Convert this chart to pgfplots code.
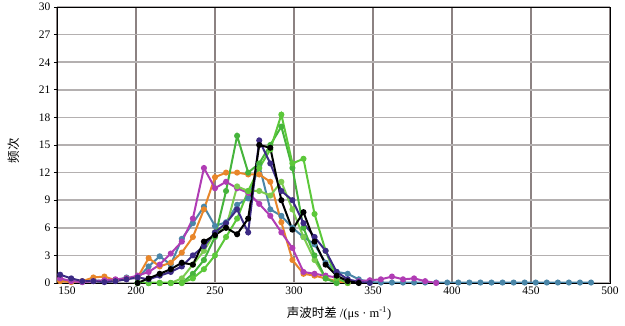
\documentclass[border=0pt]{standalone}
\usepackage{pgfplots}
\pgfplotsset{compat=1.18}
\usepackage{fontspec}
\setmainfont{Liberation Serif}
\newfontfamily\cjk{Noto Sans CJK SC}
\definecolor{cMag}{HTML}{B03CB4}
\definecolor{cOra}{HTML}{E8862A}
\definecolor{cGrA}{HTML}{46B43C}
\definecolor{cGrB}{HTML}{5CC83A}
\definecolor{cGrC}{HTML}{7CCC50}
\definecolor{cSte}{HTML}{4A86A8}
\definecolor{cNav}{HTML}{3C2A84}
\definecolor{vgrid}{HTML}{8C8282}
\definecolor{hgrid}{HTML}{B4B0B0}
\begin{document}
\begin{tikzpicture}
\begin{axis}[
  at={(0,0)}, anchor=south west,
  width=553pt, height=276pt, scale only axis,
  xmin=150, xmax=500, ymin=0, ymax=30,
  xtick={150,200,250,300,350,400,450,500},
  xticklabels={\hspace*{20pt}150,200,250,300,350,400,450,500},
  ytick={0,3,6,9,12,15,18,21,24,27,30},
  ytick pos=left,
  xmajorgrids, ymajorgrids,
  x grid style={vgrid, line width=1.6pt},
  y grid style={hgrid, line width=1.6pt},
  axis line style={black, line width=0.9pt},
  tick style={black, line width=0.6pt},
  xtick style={draw=none},
  ytick align=outside, major tick length=3pt,
  ticklabel style={font=\fontsize{11.5}{12}\selectfont},
  /pgf/number format/assume math mode=true,
  every axis plot/.append style={line width=2pt, mark=*, mark size=2pt},
  xlabel={{\cjk 声波时差} /(μs · m\textsuperscript{-1})},
  xlabel style={font=\fontsize{12.5}{13}\selectfont, at={(axis description cs:0.51,0)}, anchor=north, yshift=-20pt},
  ylabel={\cjk 频次},
  ylabel style={font=\fontsize{12.5}{13}\selectfont, at={(axis description cs:-0.078,0.48)}, anchor=center},
]
% steel blue
\addplot[color=cSte] coordinates {(152,0.4)(159,0.2)(166,0.1)(173,0.3)(180,0.2)(187,0.3)(194,0.6)(201,0.5)(208,1.8)(215,2.9)(222,2.0)(229,4.8)(236,6.5)(243,8.3)(250,6.2)(257,6.6)(264,8.5)(271,9.2)(278,12.8)(285,8.0)(292,7.3)(299,6.0)(306,5.0)(313,4.2)(320,2.2)(327,1.2)(334,1.0)(341,0.4)(348,0.1)(355,0.05)(362,0.05)(369,0.05)(376,0.05)(383,0.05)(390,0.05)(397,0.05)(404,0.05)(411,0.05)(418,0.05)(425,0.05)(432,0.05)(439,0.05)(446,0.05)(453,0.05)(460,0.05)(467,0.05)(474,0.05)(481,0.05)(488,0.05)};
% orange
\addplot[color=cOra] coordinates {(152,0.2)(159,0.1)(166,0.2)(173,0.6)(180,0.7)(187,0.3)(194,0.5)(201,0.6)(208,2.7)(215,1.8)(222,2.2)(229,3.3)(236,5.0)(243,8.0)(250,11.5)(257,12.0)(264,12.0)(271,11.8)(278,11.8)(285,11.0)(292,6.6)(299,2.5)(306,1.0)(313,0.8)(320,0.5)(327,0.2)(334,0)};
% magenta
\addplot[color=cMag] coordinates {(152,0.5)(159,0.2)(166,0.1)(173,0.2)(180,0.3)(187,0.4)(194,0.5)(201,0.8)(208,1.2)(215,2.0)(222,3.2)(229,4.5)(236,7.0)(243,12.5)(250,10.3)(257,11.0)(264,10.3)(271,9.8)(278,8.6)(285,7.3)(292,5.5)(299,3.8)(306,1.2)(313,1.0)(320,0.8)(327,0.6)(334,0.3)(341,0.2)(348,0.3)(355,0.4)(362,0.7)(369,0.4)(376,0.5)(383,0.2)(390,0)};
% green C
\addplot[color=cGrC] coordinates {(201,0)(208,0)(215,0)(222,0)(229,0.5)(236,2.0)(243,3.5)(250,5.5)(257,6.0)(264,10.5)(271,10.0)(278,10.0)(285,9.5)(292,11.0)(299,8.0)(306,5.0)(313,2.5)(320,0.5)(327,0)};
% green A
\addplot[color=cGrA] coordinates {(201,0)(208,0)(215,0)(222,0)(229,0)(236,1.0)(243,2.5)(250,5.0)(257,10.0)(264,16.0)(271,12.0)(278,13.0)(285,15.0)(292,17.0)(299,12.5)(306,6.0)(313,3.0)(320,0.5)(327,0)};
% green B
\addplot[color=cGrB] coordinates {(201,0)(208,0)(215,0)(222,0)(229,0)(236,0.5)(243,1.5)(250,3.0)(257,5.0)(264,7.0)(271,10.0)(278,12.5)(285,14.5)(292,18.3)(299,13.0)(306,13.5)(313,7.5)(320,3.5)(327,0.5)(334,0)};
% navy
\addplot[color=cNav] coordinates {(152,0.9)(159,0.5)(166,0.2)(173,0.2)(180,0.1)(187,0.2)(194,0.4)(201,0.6)(208,0.4)(215,0.8)(222,1.2)(229,1.8)(236,3.0)(243,4.0)(250,5.5)(257,6.5)(264,8.0)(271,5.5)(278,15.5)(285,13.0)(292,10.0)(299,9.0)(306,6.5)(313,5.0)(320,3.5)(327,1.2)(334,0.4)(341,0.1)(348,0)};
% black
\addplot[color=black] coordinates {(201,0)(208,0.5)(215,1.0)(222,1.5)(229,2.2)(236,2.0)(243,4.5)(250,5.2)(257,6.0)(264,5.3)(271,7.0)(278,15.0)(285,14.7)(292,9.0)(299,5.8)(306,7.7)(313,4.5)(320,2.0)(327,0.8)(334,0.2)(341,0)};
\end{axis}
\pgfresetboundingbox
\path (-57pt,-43pt) rectangle (568pt,283pt);
\end{tikzpicture}
\end{document}
